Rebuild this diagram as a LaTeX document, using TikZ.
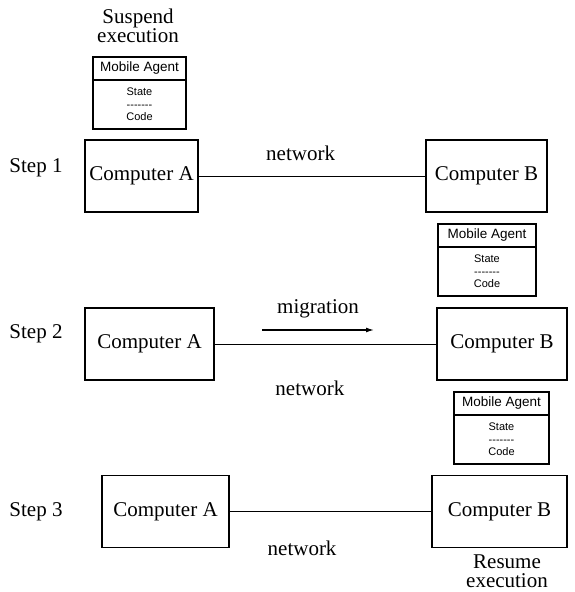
\documentclass[tikz,border=0pt]{standalone}
\usepackage{fontspec}
\setmainfont{Liberation Serif}
\setsansfont{Liberation Sans}
\usetikzlibrary{positioning, arrows.meta}

\begin{document}
\begin{tikzpicture}[x=1pt, y=-1pt,
		comp/.style={draw, line width=1.2pt, inner sep=0pt, outer sep=0pt, minimum height=72pt,
			font=\fontsize{21}{24}\selectfont},
		agenthead/.style={draw, line width=1.1pt, inner sep=0pt, outer sep=0pt, minimum height=23pt,
			font=\sffamily\fontsize{13.5}{14}\selectfont},
		agentbody/.style={draw, line width=1.1pt, inner sep=0pt, outer sep=0pt, minimum height=49pt,
			align=center, font=\sffamily\fontsize{11}{12.5}\selectfont},
		txt/.style={inner sep=0pt, align=center, font=\fontsize{21}{19.5}\selectfont},
		link/.style={draw, line width=1pt}
	]
	\useasboundingbox (0,0) rectangle (575,592);

	% step 1
	\node[txt] at (138, 26) (suspend) {Suspend\\execution};
	\node[agenthead, minimum width=93pt] at (139.5, 68.5) (agent1) {Mobile Agent};
	\node[agentbody, minimum width=93pt, below=0pt of agent1] (agent1body)
		{State\\-{}-{}-{}-{}-{}-{}-\\Code};

	\node[txt] at (36, 168) (step1) {Step 1};
	\node[comp, minimum width=113pt] at (141.5, 176) (compA1) {Computer A};
	\node[comp, minimum width=121pt] at (486.5, 176) (compB1) {Computer B};
	\draw[link] (compA1) -- node[txt, pos=0.45, yshift=23pt] {network} (compB1);

	% step 2
	\node[agenthead, minimum width=98pt] at (487, 235.5) (agent2) {Mobile Agent};
	\node[agentbody, minimum width=98pt, below=0pt of agent2] (agent2body)
		{State\\-{}-{}-{}-{}-{}-{}-\\Code};

	\node[txt] at (36, 334) (step2) {Step 2};
	\node[comp, minimum width=129pt] at (149.5, 344) (compA2) {Computer A};
	\node[comp, minimum width=130pt] at (502, 344) (compB2) {Computer B};
	\draw[link] (compA2) -- node[txt, pos=0.43, yshift=-44pt] {network} (compB2);

	\coordinate (migstart) at (262, 330);
	\coordinate (migend) at (374, 330);
	\draw[link, line width=1.3pt, -{Latex[length=8pt, width=5pt]}] (migstart) --
		node[txt, yshift=21pt] {migration} (migend);

	% step 3
	\node[agenthead, minimum width=95pt] at (501.5, 403.5) (agent3) {Mobile Agent};
	\node[agentbody, minimum width=95pt, below=0pt of agent3] (agent3body)
		{State\\-{}-{}-{}-{}-{}-{}-\\Code};

	\node[txt] at (36, 512) (step3) {Step 3};
	\node[comp, minimum width=127pt] at (165.5, 511.5) (compA3) {Computer A};
	\node[comp, minimum width=135pt] at (499.5, 511.5) (compB3) {Computer B};
	\draw[link] (compA3) -- node[txt, pos=0.36, yshift=-37pt] {network} (compB3);

	\node[txt] at (507, 571) (resume) {Resume\\execution};

\end{tikzpicture}
\end{document}
